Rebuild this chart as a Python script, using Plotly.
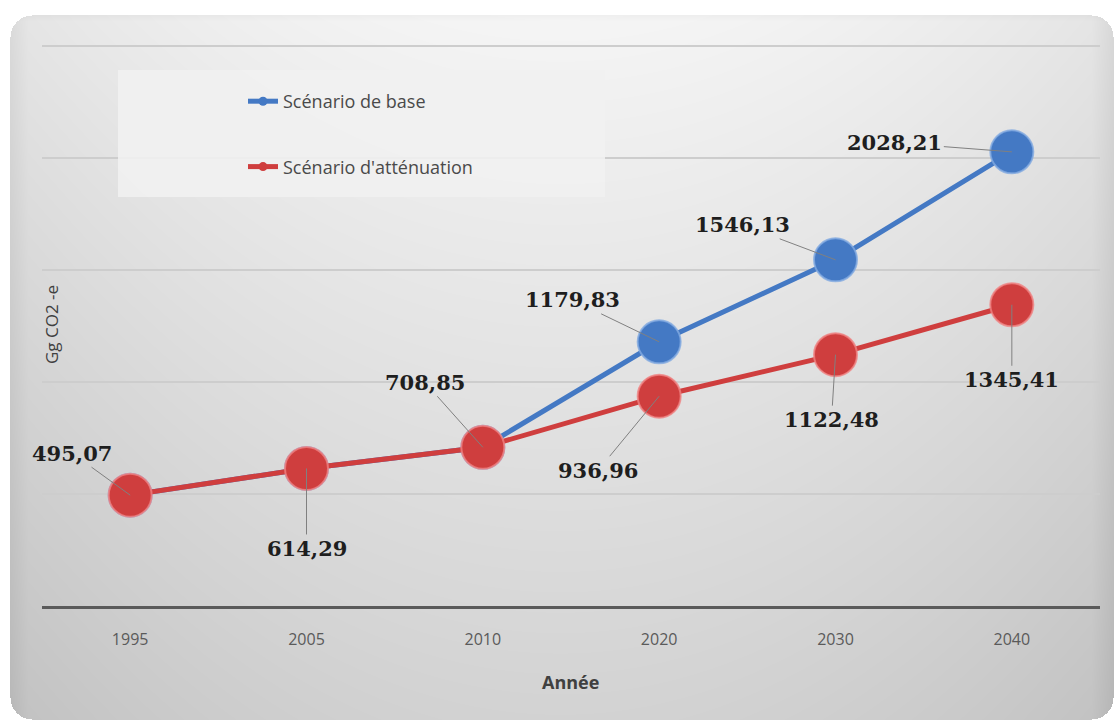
import base64
import struct
import zlib

import numpy as np
import plotly.graph_objects as go

# ---- data -------------------------------------------------------------
annees = ["1995", "2005", "2010", "2020", "2030", "2040"]
scenario_base = [495.07, 614.29, 708.85, 1179.83, 1546.13, 2028.21]
scenario_attenuation = [495.07, 614.29, 708.85, 936.96, 1122.48, 1345.41]

nom_base = "Scénario de base"
nom_attenuation = "Scénario d'atténuation"

BLUE = "#4479C4"
RED = "#CF3E3E"

W, H = 1115, 720


# ---- soft grey card behind the chart (PNG built with numpy) -------------
def make_png(rgb):
    h, w, _ = rgb.shape
    raw = b"".join(b"\x00" + rgb[i].tobytes() for i in range(h))

    def chunk(tag, data):
        c = struct.pack(">I", len(data)) + tag + data
        return c + struct.pack(">I", zlib.crc32(tag + data) & 0xFFFFFFFF)

    return (b"\x89PNG\r\n\x1a\n"
            + chunk(b"IHDR", struct.pack(">IIBBBBB", w, h, 8, 2, 0, 0, 0))
            + chunk(b"IDAT", zlib.compress(raw, 9))
            + chunk(b"IEND", b""))


yy, xx = np.mgrid[0:H, 0:W].astype(float)
shade = 246 - 0.049 * yy - 16 * ((xx - 560) / 540) ** 2
# darker bevel along the left and right edges of the card
left_x, right_x, top_y, bot_y, rad = 10, 1113, 15, 719, 22
shade -= 10 * np.clip(1 - (xx - left_x) / 18, 0, 1)
shade -= 12 * np.clip(1 - (right_x - xx) / 22, 0, 1)
shade -= 6 * np.clip(1 - (yy - top_y) / 6, 0, 1)
shade = np.clip(shade, 0, 255)

# rounded rectangle mask
cx = np.clip(xx, left_x + rad, right_x - rad)
cy = np.clip(yy, top_y + rad, bot_y - rad)
inside = ((xx - cx) ** 2 + (yy - cy) ** 2 <= rad ** 2) & \
    (xx >= left_x) & (xx <= right_x) & (yy >= top_y) & (yy <= bot_y)
img = np.where(inside, shade, 255).astype(np.uint8)
rgb = np.stack([img, img, img], axis=-1)
bg_uri = "data:image/png;base64," + base64.b64encode(make_png(rgb)).decode()

# ---- figure -----------------------------------------------------------
fig = go.Figure()

fig.add_trace(go.Scatter(
    x=annees, y=scenario_base, mode="lines+markers", name=nom_base,
    line=dict(color=BLUE, width=5),
    marker=dict(size=43, color=BLUE, line=dict(color="rgba(130,170,225,0.8)", width=2)),
    showlegend=False, hoverinfo="x+y",
))
fig.add_trace(go.Scatter(
    x=annees, y=scenario_attenuation, mode="lines+markers", name=nom_attenuation,
    line=dict(color=RED, width=5),
    marker=dict(size=43, color=RED, line=dict(color="rgba(240,130,130,0.8)", width=2)),
    showlegend=False, hoverinfo="x+y",
))

# legend entries with small markers
for nom, col, grp in [(nom_base, BLUE, "a"), (nom_attenuation, RED, "b")]:
    fig.add_trace(go.Scatter(
        x=[annees[0]], y=[None], mode="lines+markers", name=nom,
        line=dict(color=col, width=5), marker=dict(size=9, color=col),
        legendgroup=grp, showlegend=True, hoverinfo="skip",
    ))

# ---- value labels with leader lines -----------------------------------
def fmt(v):
    return f"{v:.2f}".replace(".", ",")

label_font = dict(family="DejaVu Serif", size=21, color="#1E1E1E")
offsets_attenuation = [(-58, -42), (0, 80), (-58, -65), (-61, 74), (-4, 65), (0, 75)]
offsets_base = {3: (-87, -42), 4: (-93, -35), 5: (-117, -9)}

annotations = []
for i, (ax, ay) in enumerate(offsets_attenuation):
    annotations.append(dict(
        x=i, y=scenario_attenuation[i], xref="x", yref="y",
        text=f"<b>{fmt(scenario_attenuation[i])}</b>", font=label_font,
        showarrow=True, arrowhead=0, arrowwidth=1, arrowcolor="#808080",
        ax=ax, ay=ay, standoff=0,
    ))
for i, (ax, ay) in offsets_base.items():
    annotations.append(dict(
        x=i, y=scenario_base[i], xref="x", yref="y",
        text=f"<b>{fmt(scenario_base[i])}</b>", font=label_font,
        showarrow=True, arrowhead=0, arrowwidth=1, arrowcolor="#808080",
        ax=ax, ay=ay, standoff=0,
    ))

# axis titles
annotations.append(dict(
    x=570 / W, y=1 - 682 / H, xref="paper", yref="paper", text="<b>Année</b>",
    xanchor="center", yanchor="middle",
    showarrow=False, font=dict(family="Open Sans", size=18, color="#404040"),
))
annotations.append(dict(
    x=52 / W, y=1 - 325 / H, xref="paper", yref="paper", text="Gg CO2 -e",
    xanchor="center", yanchor="middle",
    textangle=-90, showarrow=False, font=dict(family="Open Sans", size=17, color="#404040"),
))

fig.update_layout(
    width=W, height=H, autosize=False,
    margin=dict(l=0, r=0, t=0, b=0, pad=0),
    paper_bgcolor="white", plot_bgcolor="rgba(0,0,0,0)",
    images=[dict(source=bg_uri, xref="paper", yref="paper", x=0, y=1,
                 sizex=1, sizey=1, xanchor="left", yanchor="top",
                 sizing="stretch", layer="below")],
    shapes=[dict(type="rect", xref="paper", yref="paper",
                 x0=118 / W, x1=605 / W, y0=1 - 197 / H, y1=1 - 70 / H,
                 fillcolor="rgba(241,241,241,0.9)", line=dict(width=0),
                 layer="above")],
    xaxis=dict(
        type="category", categoryorder="array", categoryarray=annees,
        range=[-0.5, len(annees) - 0.5], autorange=False,
        domain=[42 / W, 1100 / W],
        showgrid=False, zeroline=False,
        showline=True, linecolor="#5A5A5A", linewidth=3,
        ticks="outside", ticklen=17, tickcolor="rgba(0,0,0,0)",
        tickfont=dict(family="Open Sans", size=16, color="#5A5A5A"),
    ),
    yaxis=dict(
        domain=[1 - 606 / H, 1 - 44 / H], range=[0, 2510], dtick=500,
        showticklabels=False, zeroline=False, showline=False,
        showgrid=True, gridcolor="#CDCDCD", gridwidth=1.5,
    ),
    legend=dict(
        x=(291 - 48) / W, y=1 - 83 / H, xanchor="left", yanchor="top",
        bgcolor="rgba(0,0,0,0)", tracegroupgap=39,
        font=dict(family="Open Sans", size=18, color="#4A4A4A"),
    ),
    annotations=annotations,
    hovermode="closest",
)

fig.write_html("out.html")
